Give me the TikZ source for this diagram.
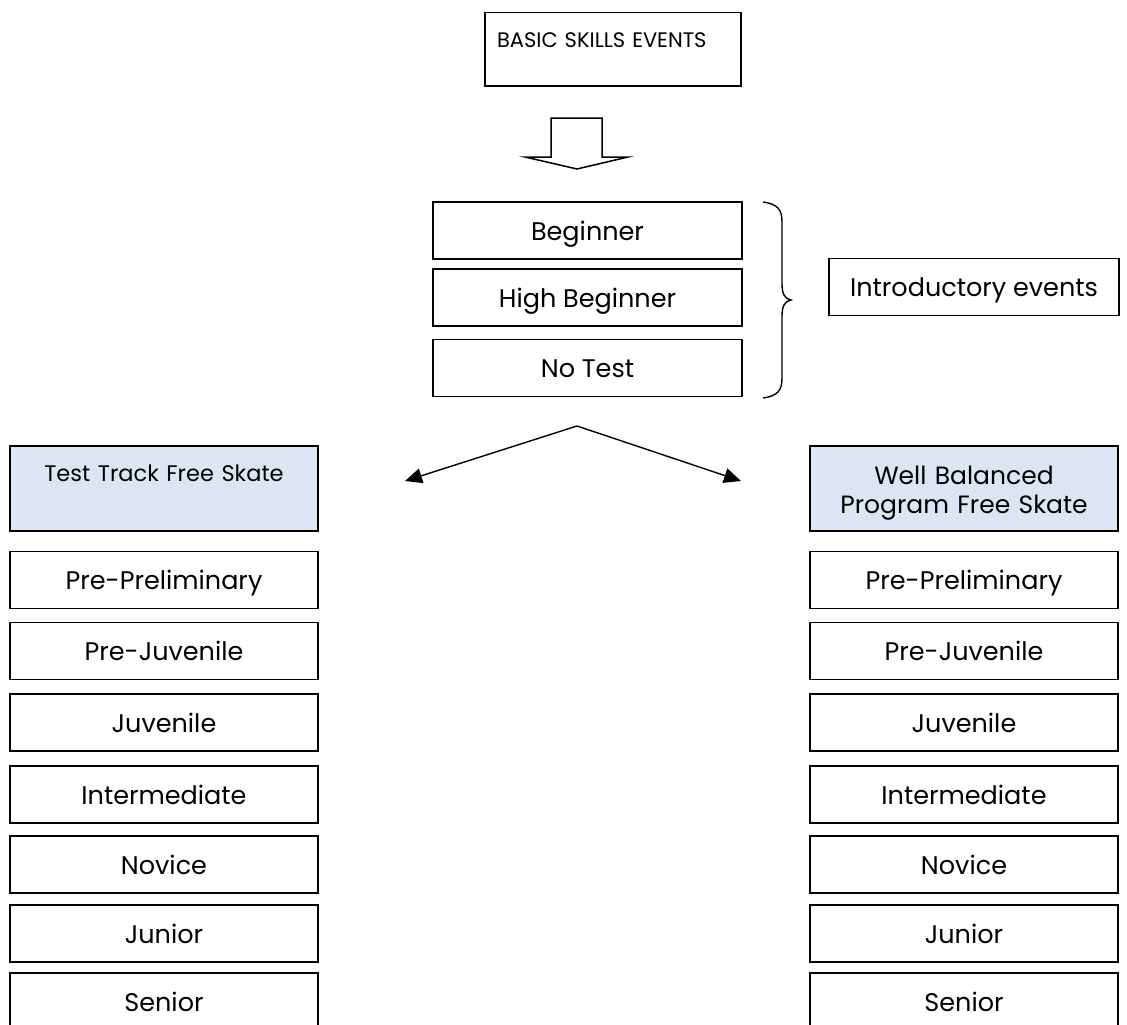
\documentclass[tikz,border=0pt]{standalone}
\usepackage{fontspec}
\setmainfont{Poppins}
\usetikzlibrary{arrows.meta}
\definecolor{lightblue}{HTML}{DCE6F2}
\begin{document}
\begin{tikzpicture}[x=1pt,y=-1pt,
  box/.style={draw=black, line width=1.5pt, rectangle, inner sep=0pt,
    minimum width=#1, font=\fontsize{25.5}{29}\selectfont,
    text height=19pt, text depth=0pt, minimum height=57pt},
  box/.default=308pt,
  cbox/.style={draw=black, line width=1.5pt, fill=lightblue, rectangle, inner sep=0pt,
    text width=304pt, align=center, minimum width=308pt, anchor=north,
    font=\fontsize{25}{29}\selectfont},
  conn/.style={line width=1.4pt, -{Triangle[length=17pt,width=15pt]}},
  outline/.style={line width=1.5pt, line join=miter}
]
\useasboundingbox (0,0) rectangle (1127,1025);

% top box
\node[draw=black, line width=1.5pt, anchor=north, inner xsep=12pt, inner ysep=0pt,
  text width=232pt, align=left, text height=35pt, text depth=38pt,
  font=\fontsize{21}{29}\selectfont] (basic) at (613,12) {BASIC SKILLS EVENTS};

% block arrow
\draw[outline] (551,118) -- (602,118) -- (602,157) -- (628,157) -- (577,169)
  -- (525,157) -- (551,157) -- cycle;

% introductory levels
\node[box=309pt] (beg) at (587.5,230.5) {Beginner};
\node[box=309pt] (hbeg) at (587.5,297.5) {High Beginner};
\node[box=309pt] (nt) at (587.5,368) {No Test};

% brace
\draw[line width=1.4pt] (763,202) .. controls (778,204) and (782,210) .. (782,222)
  -- (782,284) .. controls (782,294) and (785,299) .. (791,300)
  .. controls (785,301) and (782,306) .. (782,316)
  -- (782,378) .. controls (782,390) and (778,396) .. (763,398);

\node[box=290pt] (intro) at (974,287) {Introductory events};

% split arrows
\coordinate (apex) at (577,426);
\coordinate (lt) at (405,481);
\coordinate (rt) at (741,481);
\draw[conn] (apex) -- (lt);
\draw[conn] (apex) -- (rt);

% coloured heads
\node[cbox, text height=36pt, text depth=49pt, font=\fontsize{22.5}{29}\selectfont] (tt) at (164,445) {Test Track Free Skate};
\node[cbox, text height=39pt, text depth=46pt] (wb) at (964,445) {Well Balanced\\Program Free Skate};

% left column
\node[box] (l1) at (164,580) {Pre-Preliminary};
\node[box] (l2) at (164,651) {Pre-Juvenile};
\node[box] (l3) at (164,722.5) {Juvenile};
\node[box] (l4) at (164,794.5) {Intermediate};
\node[box] (l5) at (164,864.5) {Novice};
\node[box] (l6) at (164,933.5) {Junior};
\node[box] (l7) at (164,1001.5) {Senior};

% right column
\node[box] (r1) at (964,580) {Pre-Preliminary};
\node[box] (r2) at (964,651) {Pre-Juvenile};
\node[box] (r3) at (964,722.5) {Juvenile};
\node[box] (r4) at (964,794.5) {Intermediate};
\node[box] (r5) at (964,864.5) {Novice};
\node[box] (r6) at (964,933.5) {Junior};
\node[box] (r7) at (964,1001.5) {Senior};
\end{tikzpicture}
\end{document}
